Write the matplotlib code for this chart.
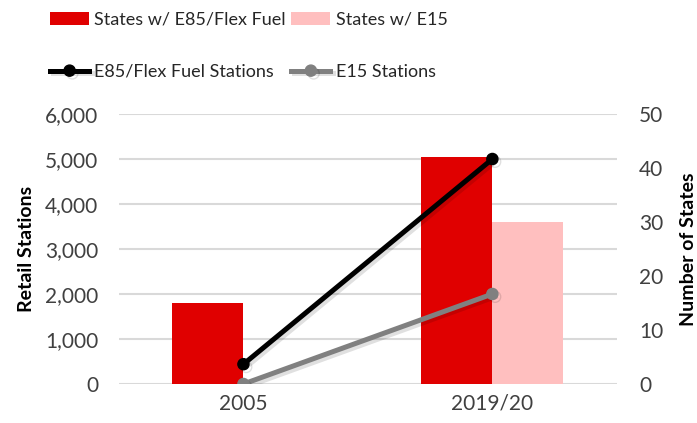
import matplotlib
matplotlib.use("Agg")
import matplotlib.pyplot as plt
import matplotlib.patheffects as pe
import numpy as np

# data
years = ["2005", "2019/20"]
states_e85 = [15, 42]
states_e15 = [0, 30]
stations_e85 = [440, 5000]
stations_e15 = [0, 2000]

red = "#E00000"
pink = "#FFBFBF"
tick_col = "#404040"

plt.rcParams["font.family"] = ["Lato", "DejaVu Sans"]

fig = plt.figure(figsize=(6.97, 4.23), dpi=100)
ax = fig.add_axes([0.1707, 0.0922, 0.7143, 0.6383])
ax2 = ax.twinx()
ax3 = fig.add_axes(ax.get_position(), sharex=ax, sharey=ax)

x = np.arange(len(years))
w = 0.285

# bars -> right axis (number of states)
b1 = ax2.bar(x - w / 2, states_e85, w, color=red, label="States w/ E85/Flex Fuel")
b2 = ax2.bar(x + w / 2, states_e15, w, color=pink, label="States w/ E15")

# lines -> left axis, on an overlay so they sit above the bars
shadow = [pe.SimpleLineShadow(offset=(2, -2), shadow_color="k", alpha=0.12), pe.Normal()]
l1, = ax3.plot(x, stations_e85, color="black", lw=3.6, marker="o", ms=8,
               label="E85/Flex Fuel Stations", path_effects=shadow)
l2, = ax3.plot(x, stations_e15, color="#808080", lw=3.6, marker="o", ms=8,
               label="E15 Stations", path_effects=shadow)

ax.set_xlim(-0.5, 1.5)
ax.set_ylim(0, 6000)
ax2.set_ylim(0, 50)
ax.set_yticks(np.arange(0, 6001, 1000))
ax2.set_yticks(np.arange(0, 51, 10))
ax.set_yticklabels([f"{v:,}" for v in range(0, 6001, 1000)])
ax.set_xticks(x)
ax.set_xticklabels(years)

ax.grid(axis="y", color="#D9D9D9", lw=1.5)
ax.set_axisbelow(True)
for a in (ax, ax2):
    for s in a.spines.values():
        s.set_visible(False)
    a.tick_params(length=0, labelsize=15, labelcolor=tick_col)
ax.tick_params(axis="y", pad=15)
ax.tick_params(axis="x", pad=7)
ax2.tick_params(axis="y", pad=16)

ax.set_ylabel("Retail Stations", fontsize=14, fontweight="bold", labelpad=7)
ax2.set_ylabel("Number of States", fontsize=14, fontweight="bold", labelpad=12)

ax3.axis("off")
ax3.patch.set_visible(False)

fig.legend([b1, l1, b2, l2],
           ["States w/ E85/Flex Fuel", "E85/Flex Fuel Stations", "States w/ E15", "E15 Stations"],
           ncol=2, loc="upper left", bbox_to_anchor=(0.072, 0.972), frameon=False,
           fontsize=13, handlelength=2.15, handletextpad=0.3, columnspacing=0.3,
           labelspacing=2.0, borderpad=0, borderaxespad=0, labelcolor="#262626")

fig.savefig("out.png", dpi=100)
